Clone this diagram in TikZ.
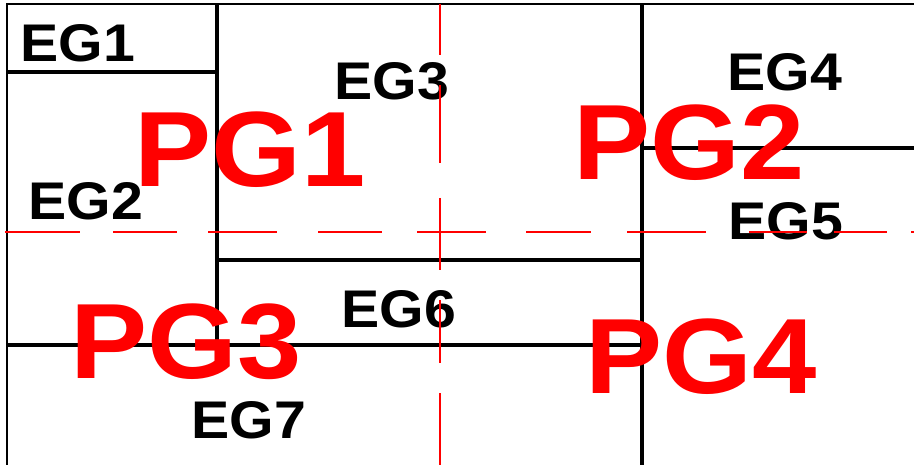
\documentclass[tikz,border=0pt]{standalone}
\usepackage{fontspec}
\setmainfont{Liberation Sans}
\begin{document}
\begin{tikzpicture}[x=1pt,y=-1pt,
  frame/.style={line width=1.6pt, black},
  wall/.style={line width=3.3pt, black},
  axis/.style={line width=2.8pt, red},
  eg/.style={inner sep=0pt, anchor=base, font=\fontsize{53}{53}\selectfont\bfseries},
  pg/.style={inner sep=0pt, anchor=base, text=red, font=\fontsize{107}{107}\selectfont\bfseries}]
\useasboundingbox (0,0) rectangle (914,465);
% frame
\coordinate (tl) at (7,4);
\coordinate (tr) at (914,4);
\coordinate (bl) at (7,465);
\draw[frame] (tr) -- (tl) -- (bl);
% walls
\coordinate (a1) at (217,4);   \coordinate (a2) at (217,345);
\coordinate (b1) at (7,72);    \coordinate (b2) at (217,72);
\coordinate (c1) at (217,260); \coordinate (c2) at (642,260);
\coordinate (d1) at (7,345);   \coordinate (d2) at (642,345);
\coordinate (e1) at (642,4);   \coordinate (e2) at (642,465);
\coordinate (f1) at (642,148); \coordinate (f2) at (914,148);
\draw[wall] (a1) -- (a2);
\draw[wall] (b1) -- (b2);
\draw[wall] (c1) -- (c2);
\draw[wall] (d1) -- (d2);
\draw[wall] (e1) -- (e2);
\draw[wall] (f1) -- (f2);
% EG labels
\node[eg] (eg1) at (78,62)  {\scalebox{1.08}[1]{EG1}};
\node[eg] (eg2) at (86,220) {\scalebox{1.08}[1]{EG2}};
\node[eg] (eg3) at (392,100) {\scalebox{1.08}[1]{EG3}};
\node[eg] (eg4) at (785,91) {\scalebox{1.08}[1]{EG4}};
\node[eg] (eg5) at (786,240) {\scalebox{1.08}[1]{EG5}};
\node[eg] (eg6) at (399,328) {\scalebox{1.08}[1]{EG6}};
\node[eg] (eg7) at (249,438) {\scalebox{1.08}[1]{EG7}};
% red axes (dashed)
\foreach \s/\e in {5/80,113/177,208/277,318/382,417/486,526/591,627/706,749/807,834/887,911/914}
  \draw[axis] (\s,232) -- (\e,232);
\foreach \s/\e in {4/55,85/163,198/270,300/363,393/465}
  \draw[axis] (440,\s) -- (440,\e);
% PG labels
\node[pg] (pg1) at (250,187) {\scalebox{1.08}[1]{PG1}};
\node[pg] (pg2) at (689,180) {\scalebox{1.08}[1]{PG2}};
\node[pg] (pg3) at (186,379) {\scalebox{1.08}[1]{PG3}};
\node[pg] (pg4) at (701,394) {\scalebox{1.08}[1]{PG4}};
\end{tikzpicture}
\end{document}
